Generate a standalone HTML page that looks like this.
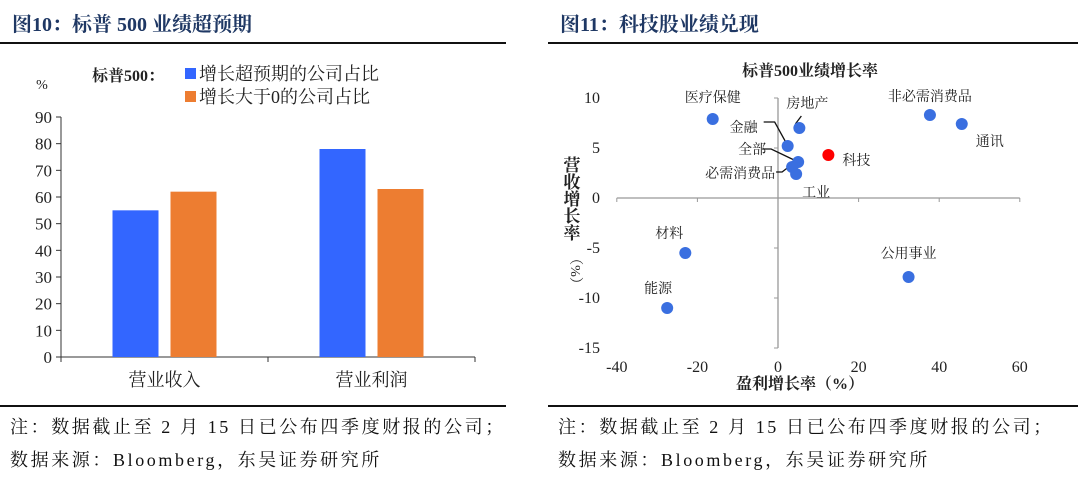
<!DOCTYPE html>
<html><head><meta charset="utf-8">
<style>
html,body{margin:0;padding:0;background:#fff;}
body{width:1080px;height:479px;position:relative;overflow:hidden;font-family:"Liberation Serif","Noto Serif CJK SC",serif;}
.hd{position:absolute;top:8px;font-size:20px;font-weight:bold;color:#1f3864;font-family:"Liberation Serif","Noto Serif CJK SC",serif;}
.rule{position:absolute;height:2px;background:#111;}
.fn{position:absolute;font-size:18px;color:#111;letter-spacing:2.6px;white-space:nowrap;}
svg{position:absolute;left:0;top:0;}
text{font-family:"Liberation Serif","Noto Serif CJK SC",serif;fill:#222;}
</style></head><body>
<div class="hd" style="left:12px">图10：标普 500 业绩超预期</div>
<div class="hd" style="left:560px">图11：科技股业绩兑现</div>
<div class="rule" style="left:0;width:506px;top:42px"></div>
<div class="rule" style="left:548px;width:530px;top:42px"></div>
<div class="rule" style="left:0;width:506px;top:405px"></div>
<div class="rule" style="left:548px;width:530px;top:405px"></div>
<div class="fn" style="left:10px;top:413px">注：数据截止至 2 月 15 日已公布四季度财报的公司；</div>
<div class="fn" style="left:10px;top:446px">数据来源：Bloomberg，东吴证券研究所</div>
<div class="fn" style="left:558px;top:413px">注：数据截止至 2 月 15 日已公布四季度财报的公司；</div>
<div class="fn" style="left:558px;top:446px">数据来源：Bloomberg，东吴证券研究所</div>
<svg id="chart" width="1080" height="479"></svg>
<script>
const barCategories = ["营业收入", "营业利润"];
const beatShare = [55, 78];
const positiveShare = [62, 63];
const barTicks = [0,10,20,30,40,50,60,70,80,90];

const sectorNames = ["医疗保健","房地产","金融","全部","必需消费品","工业","科技","非必需消费品","通讯","材料","能源","公用事业"];
const profitGrowth = [-16.2, 5.3, 2.4, 5.0, 3.5, 4.5, 12.5, 37.7, 45.6, -23.0, -27.5, 32.4];
const revenueGrowth = [7.9, 7.0, 5.2, 3.6, 3.1, 2.4, 4.3, 8.3, 7.4, -5.5, -11.0, -7.9];
const xTicks = [-40,-20,0,20,40,60];
const yTicks = [10,5,0,-5,-10,-15];

const NS="http://www.w3.org/2000/svg";
const svg=document.getElementById('chart');
function mk(tag,attrs,txt){const e=document.createElementNS(NS,tag);for(const k in attrs)e.setAttribute(k,attrs[k]);if(txt!==undefined)e.textContent=txt;svg.appendChild(e);return e;}

// ---- Bar chart ----
const bx0=61,bx1=475,by0=357,by1=117;
const bY=v=>by0-(v/90)*(by0-by1);
const catW=(bx1-bx0)/barCategories.length;
let e;
e=mk('line',{x1:bx0,y1:by1,x2:bx0,y2:by0,stroke:'#333','stroke-width':1});


e=mk('line',{x1:bx0,y1:by0,x2:bx1,y2:by0,stroke:'#333','stroke-width':1});


barTicks.forEach(t=>{
  e=mk('line',{x1:bx0-5,y1:bY(t),x2:bx0,y2:bY(t),stroke:'#333'});
  
  
  e=mk('text',{x:bx0-9,y:bY(t)+6,'text-anchor':'end','font-size':17},String(t));
  
  
});
for(let i=0;i<=barCategories.length;i++){
  e=mk('line',{x1:bx0+i*catW,y1:by0,x2:bx0+i*catW,y2:by0+5,stroke:'#333'});
  
  
}
barCategories.forEach((c,i)=>{
  const cx=bx0+catW*(i+0.5);
  e=mk('rect',{x:cx-52,y:bY(beatShare[i]),width:46,height:by0-bY(beatShare[i]),fill:'#3366ff'});
  
  
  e=mk('rect',{x:cx+6,y:bY(positiveShare[i]),width:46,height:by0-bY(positiveShare[i]),fill:'#ed7d31'});
  
  
  e=mk('text',{x:cx,y:386,'text-anchor':'middle','font-size':18},c);
  
  
});
e=mk('text',{x:42,y:89,'text-anchor':'middle','font-size':14},'%');


e=mk('text',{x:92,y:81,'font-size':16,'font-weight':'bold'},'标普500：');


e=mk('rect',{x:185,y:68,width:11,height:11,fill:'#3366ff'});


e=mk('text',{x:199,y:80,'font-size':18},'增长超预期的公司占比');


e=mk('rect',{x:185,y:91,width:11,height:11,fill:'#ed7d31'});


e=mk('text',{x:199,y:103,'font-size':18},'增长大于0的公司占比');



// ---- Scatter ----
const sx=v=>778+v*4.03;
const sy=v=>198-v*10;
e=mk('text',{x:810,y:76,'text-anchor':'middle','font-size':16,'font-weight':'bold'},'标普500业绩增长率');


e=mk('line',{x1:sx(-40),y1:sy(0),x2:sx(60),y2:sy(0),stroke:'#999','stroke-width':1.3});


e=mk('line',{x1:sx(0),y1:sy(10),x2:sx(0),y2:sy(-15),stroke:'#999','stroke-width':1.3});


xTicks.forEach(t=>{
  e=mk('line',{x1:sx(t),y1:sy(0),x2:sx(t),y2:sy(0)+4,stroke:'#999'});
  
  
  e=mk('text',{x:sx(t),y:372,'text-anchor':'middle','font-size':16},String(t));
  
  
});
yTicks.forEach(t=>{
  e=mk('line',{x1:sx(0)-4,y1:sy(t),x2:sx(0),y2:sy(t),stroke:'#999'});
  
  
  e=mk('text',{x:600,y:sy(t)+5,'text-anchor':'end','font-size':16},String(t));
  
  
});
e=mk('text',{x:800,y:389,'text-anchor':'middle','font-size':16,'font-weight':'bold'},'盈利增长率（%）');


const ytitle="营收增长率";
for(let i=0;i<ytitle.length;i++){
  e=mk('text',{x:572,y:171+i*17,'text-anchor':'middle','font-size':17,'font-weight':'bold'},ytitle[i]);
  
  
}
e=mk('text',{x:571,y:271,'text-anchor':'middle','font-size':14,transform:'rotate(90 571 271)'},'（%）');



const lblOff=[[0,-22,'middle'],[8,-25,'middle'],[-44,-19,'middle'],[-46,-13,'middle'],[-52,6,'middle'],[20,18,'middle'],[14,5,'start'],[0,-19,'middle'],[14,17,'start'],[-16,-20,'middle'],[-9,-20,'middle'],[0,-24,'middle']];
const leaders={1:[[-4,-4],[2,-12]],2:[[-2,-4],[-13,-24],[-24,-24]],3:[[-2,-1],[-27,-13],[-36,-13]],4:[[-1,-2],[-10,5],[-16,5]]};
profitGrowth.forEach((p,i)=>{
  const x=sx(p),y=sy(revenueGrowth[i]);
  if(leaders[i]){
    const pts=leaders[i].map(d=>(x+d[0])+','+(y+d[1])).join(' ');
    e=mk('polyline',{points:pts,fill:'none',stroke:'#111','stroke-width':1.3});
    
    
  }
});
profitGrowth.forEach((p,i)=>{
  const x=sx(p),y=sy(revenueGrowth[i]);
  e=mk('circle',{cx:x,cy:y,r:6,fill:sectorNames[i]==='科技'?'#ff0000':'#3a6fe0'});
  
  
  const o=lblOff[i];
  e=mk('text',{x:x+o[0],y:y+o[1]+5,'text-anchor':o[2],'font-size':14},sectorNames[i]);
  
  
});
</script>
</body></html>
